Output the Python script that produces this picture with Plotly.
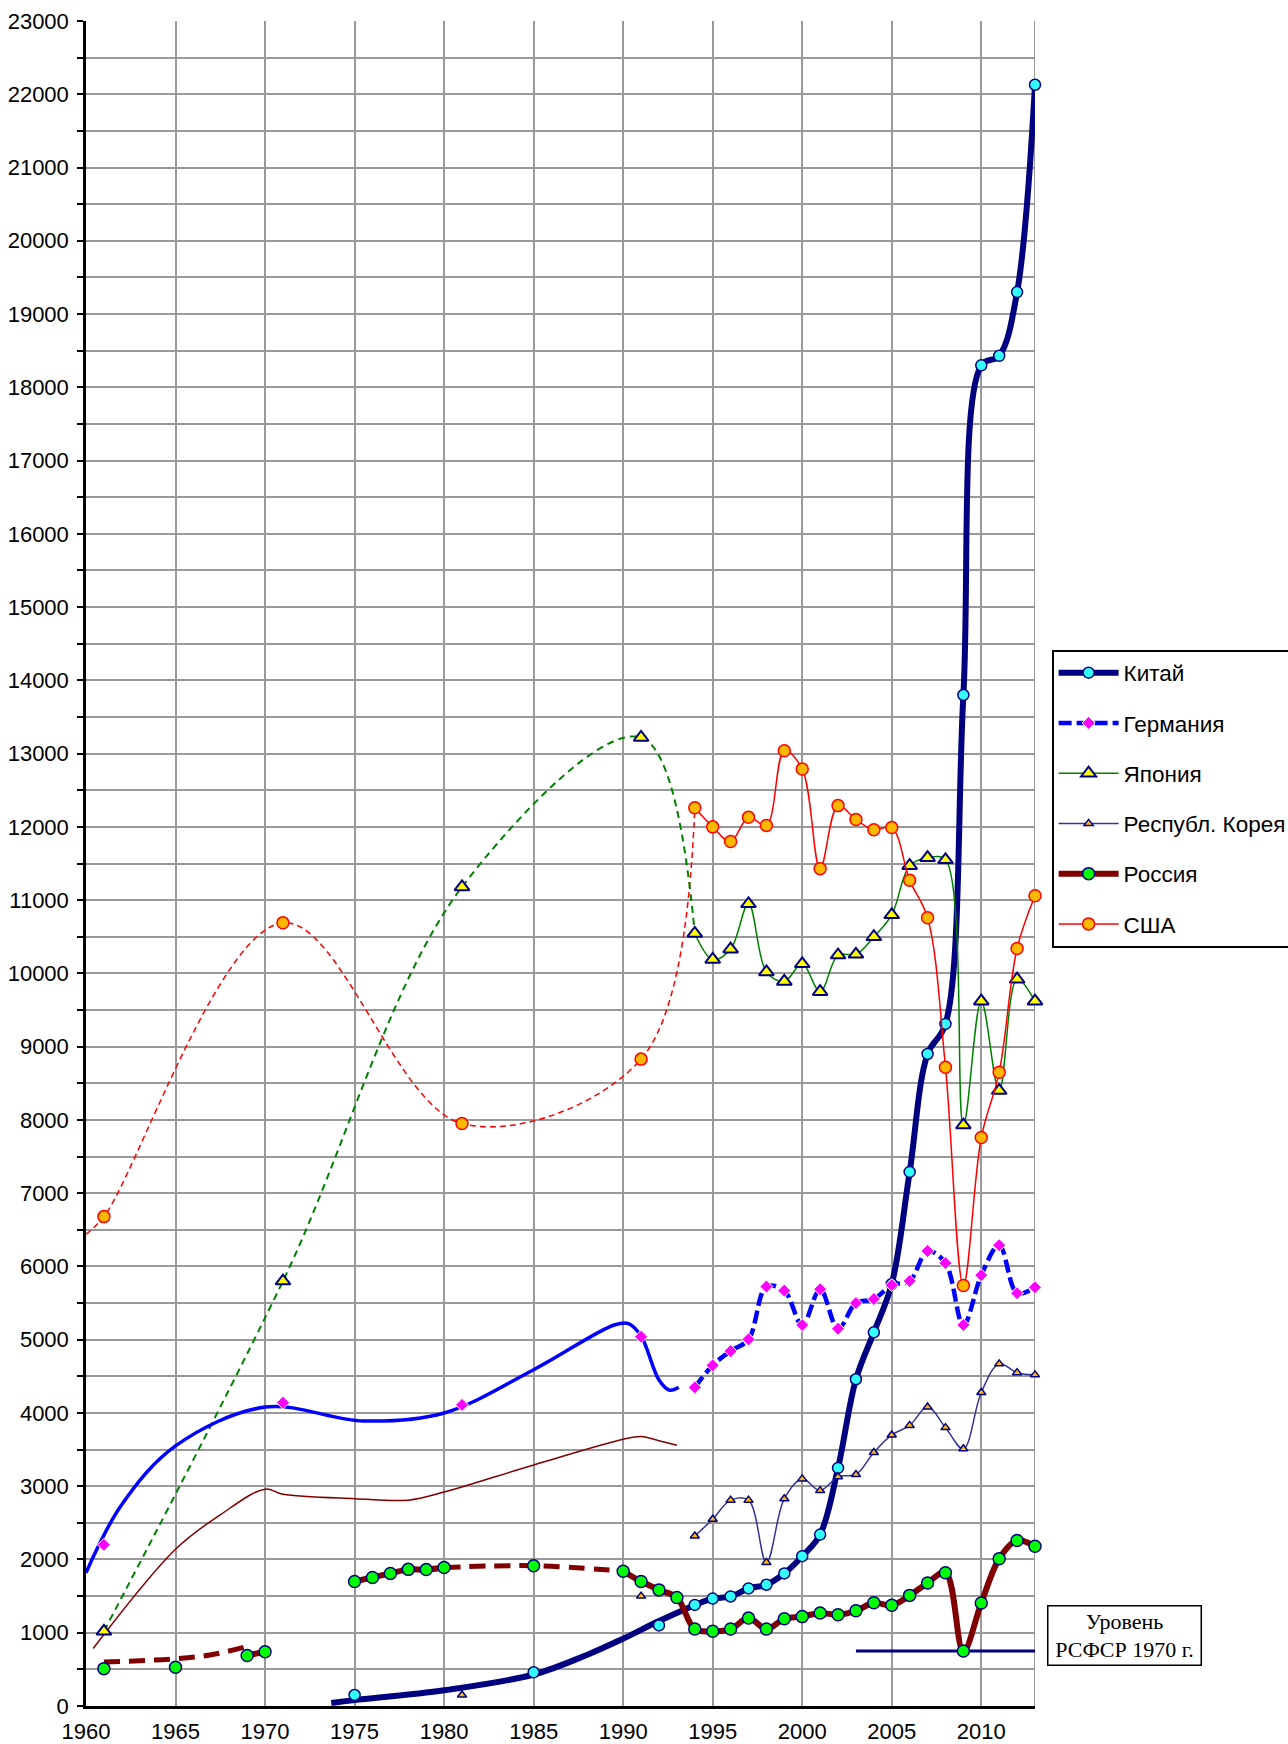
import plotly.graph_objects as go

# ---------------- data ----------------
recent_years = list(range(1994, 2014))

china_years = [1975, 1985, 1992] + recent_years
china_values = [150, 460, 1100,
                1380, 1466, 1495, 1605, 1655, 1810, 2045, 2340, 3250, 4460,
                5100, 5760, 7290, 8900, 9310, 13800, 18300, 18430, 19300, 22130]

germany_years = [1961, 1971, 1981, 1991] + recent_years
germany_values = [2200, 4140, 4110, 5040,
                  4350, 4650, 4845, 5005, 5725, 5670, 5200, 5690, 5150, 5500,
                  5555, 5745, 5800, 6210, 6045, 5200, 5880, 6290, 5635, 5715]

japan_years = [1961, 1971, 1981, 1991] + recent_years
japan_values = [1020, 5800, 11180, 13220,
                10545, 10190, 10330, 10950, 10020, 9890, 10130, 9750, 10250, 10260,
                10500, 10800, 11470, 11580, 11550, 7930, 9620, 8400, 9920, 9620]

korea_years = [1981, 1991] + recent_years
korea_values = [150, 1500,
                2320, 2550, 2810, 2810, 1960, 2830, 3100, 2940, 3130, 3160,
                3460, 3700, 3830, 4080, 3800, 3510, 4280, 4670, 4550, 4520]

russia_years = [1961, 1965, 1969, 1970, 1975, 1976, 1977, 1978, 1979, 1980,
                1985, 1990, 1991, 1992, 1993] + recent_years
russia_values = [510, 530, 690, 740, 1700, 1755, 1810, 1865, 1862, 1890,
                 1915, 1840, 1700, 1585, 1480,
                 1050, 1020, 1050, 1200, 1050, 1190, 1220, 1270, 1245, 1300,
                 1410, 1375, 1510, 1680, 1820, 750, 1405, 2010, 2260, 2180]

usa_years = [1961, 1971, 1981, 1991] + recent_years
usa_values = [6680, 10690, 7950, 8830,
              12260, 12000, 11800, 12130, 12020, 13040, 12790, 11430, 12290, 12100,
              11960, 11990, 11270, 10760, 8720, 5740, 7760, 8650, 10340, 11060]

# connecting / estimated curves drawn without markers
usa_gap_years = [1960, 1961, 1971, 1981, 1991, 1994]
usa_gap_values = [6440, 6680, 10690, 7950, 8830, 12260]

japan_gap_years = [1961, 1971, 1981, 1991, 1994]
japan_gap_values = [1020, 5800, 11180, 13220, 10545]

germany_est_years = [1960, 1962, 1965, 1970, 1975.5, 1980, 1985, 1989.5, 1990.3,
                     1991, 1992, 1992.6, 1993.1]
germany_est_values = [1820, 2750, 3550, 4080, 3890, 4000, 4590, 5200, 5220,
                      5050, 4450, 4310, 4350]

ussr_est_years = [1960.4, 1965, 1967.5, 1970, 1971, 1975, 1978, 1980, 1985,
                  1990, 1991, 1992, 1993]
ussr_est_values = [785, 2140, 2610, 2960, 2890, 2830, 2810, 2920, 3290,
                   3640, 3680, 3620, 3560]

russia_gap1_years = [1961, 1965, 1967, 1968.8]
russia_gap1_values = [600, 645, 700, 800]
russia_gap2_years = [1980, 1985, 1990]
russia_gap2_values = [1890, 1915, 1840]

china_est_years = [1973.7, 1975, 1980, 1985, 1988, 1990, 1992, 1994]
china_est_values = [40, 80, 215, 430, 700, 920, 1160, 1380]

level_years = [2003, 2013]
level_value = 750  # Уровень РСФСР 1970 г.

x_ticks = list(range(1960, 2011, 5))


def with_gaps(years, values):
    xs, ys = [], []
    for i, (x, y) in enumerate(zip(years, values)):
        if i > 0 and x - years[i - 1] > 1:
            xs.append(None)
            ys.append(None)
        xs.append(x)
        ys.append(y)
    return xs, ys


fig = go.Figure()

# ---- helper curves ----
def helper(x, y, color, width, dash="solid"):
    fig.add_trace(go.Scatter(x=x, y=y, mode="lines", showlegend=False,
                             hoverinfo="skip",
                             line=dict(color=color, width=width, dash=dash,
                                       shape="spline", smoothing=1.0)))

helper(usa_gap_years, usa_gap_values, "#FF0000", 1.5, "6px,4px")
helper(japan_gap_years, japan_gap_values, "#008000", 2, "7px,5px")
helper(germany_est_years, germany_est_values, "#0000FF", 3.5)
helper(ussr_est_years, ussr_est_values, "#800000", 1.5)
helper(russia_gap1_years, russia_gap1_values, "#800000", 5, "16px,9px")
helper(russia_gap2_years, russia_gap2_values, "#800000", 5, "16px,9px")
helper(china_est_years, china_est_values, "#000080", 6)
fig.add_trace(go.Scatter(x=level_years, y=[level_value] * len(level_years),
                         mode="lines", showlegend=False, hoverinfo="skip",
                         line=dict(color="#000080", width=3)))

# ---- main series ----
series = [
    ("Китай", china_years, china_values,
     dict(color="#000080", width=6),
     dict(symbol="circle", size=11, color="#33FFFF", line=dict(color="#000080", width=1.5))),
    ("Германия", germany_years, germany_values,
     dict(color="#0000FF", width=4.5, dash="13px,5px"),
     dict(symbol="diamond", size=10, color="#FF00FF", line=dict(color="#FFFFFF", width=1))),
    ("Япония", japan_years, japan_values,
     dict(color="#008000", width=1.5),
     dict(symbol="triangle-up", size=13, color="#FFFF00", line=dict(color="#000080", width=2))),
    ("Республ. Корея", korea_years, korea_values,
     dict(color="#333399", width=1.5),
     dict(symbol="triangle-up", size=8, color="#FFB800", line=dict(color="#000080", width=1.5))),
    ("Россия", russia_years, russia_values,
     dict(color="#800000", width=6),
     dict(symbol="circle", size=12, color="#00FF00", line=dict(color="#000080", width=1.5))),
    ("США", usa_years, usa_values,
     dict(color="#FF0000", width=1.5),
     dict(symbol="circle", size=12, color="#FFB800", line=dict(color="#FF0000", width=1.5))),
]

for rank, (name, yrs, vals, line, marker) in enumerate(series):
    xs, ys = with_gaps(yrs, vals)
    line = dict(line, shape="spline", smoothing=1.0)
    fig.add_trace(go.Scatter(x=xs, y=ys, name=name, mode="lines+markers",
                             line=line, marker=marker, connectgaps=False,
                             cliponaxis=False, legendgroup=name,
                             legendrank=rank + 1))

FONT = "Liberation Sans, Arial, sans-serif"

fig.update_layout(
    width=1288, height=1744,
    margin=dict(l=86, r=253, t=21, b=38, autoexpand=False),
    paper_bgcolor="white", plot_bgcolor="white",
    font=dict(family=FONT, size=22, color="black"),
    showlegend=True,
    legend=dict(x=1.0175, y=0.627, xanchor="left", yanchor="top",
                bgcolor="white", bordercolor="black", borderwidth=2,
                font=dict(family=FONT, size=22.5, color="black"),
                tracegroupgap=18, itemwidth=60, traceorder="grouped"),
    xaxis=dict(range=[1960, 2013], tickvals=x_ticks, ticktext=[str(v) for v in x_ticks],
               showgrid=True, gridcolor="#999999", gridwidth=2,
               showline=True, linecolor="black", linewidth=2.5,
               ticks="", zeroline=False, tickfont=dict(size=22), ticklabelstandoff=4),
    yaxis=dict(range=[0, 23000], dtick=1000, tick0=0, tickformat="d",
               showgrid=True, gridcolor="#999999", gridwidth=2,
               showline=True, linecolor="black", linewidth=2.5,
               ticks="outside", ticklen=6, tickwidth=2, tickcolor="black",
               zeroline=False, tickfont=dict(size=22), ticklabelstandoff=4,
               minor=dict(dtick=500, showgrid=True, gridcolor="#999999", gridwidth=2,
                          ticks="outside", ticklen=6, tickwidth=2, tickcolor="black")),
    shapes=[dict(type="line", xref="x", yref="paper", x0=2013, x1=2013, y0=0, y1=1,
                 line=dict(color="#999999", width=2), layer="below")],
    annotations=[dict(xref="paper", yref="paper", x=1.0943, y=0.0421,
                      xanchor="center", yanchor="middle", showarrow=False,
                      text="Уровень<br>РСФСР 1970 г.",
                      font=dict(family="Liberation Serif, Times New Roman, serif",
                                size=22, color="black"),
                      align="center", bgcolor="white", bordercolor="black",
                      borderwidth=1.5, borderpad=2, width=148)],
)

fig.write_html("out.html",
               config={"displayModeBar": False},
               post_script="document.body.style.margin='0px';"
                           "document.body.style.overflow='hidden';")
